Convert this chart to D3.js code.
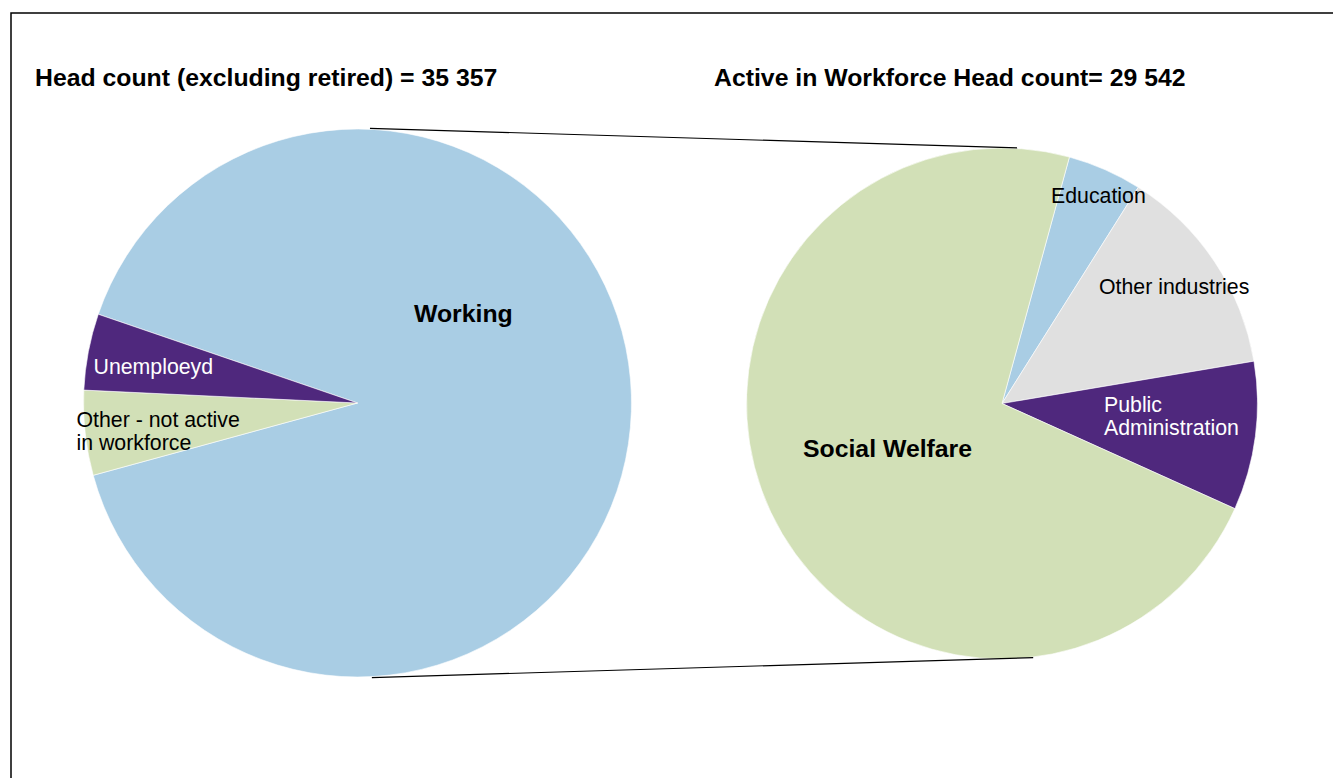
<!DOCTYPE html>
<html>
<head>
<meta charset="utf-8">
<script src="https://cdn.jsdelivr.net/npm/d3@7"></script>
<style>
  html, body { margin: 0; padding: 0; background: #fff; overflow: hidden; }
  svg { display: block; font-family: "Liberation Sans", Arial, sans-serif; }
</style>
</head>
<body>
<svg id="chart" width="1333" height="778"></svg>
<script>
// Head count breakdown (share of head count, %)
const mainCategories = ["Working", "Other - not active in workforce", "Unemploeyd"];
const mainValues = [90.5, 5.0, 4.5];

// Breakdown of the active workforce by sector (%)
const subCategories = ["Education", "Other industries", "Public Administration", "Social Welfare"];
const subValues = [4.7, 13.4, 9.4, 72.5];

const titles = [
  "Head count (excluding retired) = 35 357",
  "Active in Workforce Head count= 29 542"
];

const colors = {
  "Working": "#a9cde4",
  "Other - not active in workforce": "#d2e0b7",
  "Unemploeyd": "#4f287d",
  "Education": "#a9cde4",
  "Other industries": "#e0e0e0",
  "Public Administration": "#4f287d",
  "Social Welfare": "#d2e0b7"
};

const svg = d3.select("#chart");
const deg = Math.PI / 180;

// outer frame
svg.append("rect")
  .attr("x", 11).attr("y", 13)
  .attr("width", 1400).attr("height", 900)
  .attr("fill", "none").attr("stroke", "#000").attr("stroke-width", 1.5);

// titles
svg.append("text").attr("x", 35).attr("y", 86)
  .attr("font-size", 24.8).attr("font-weight", "bold").text(titles[0]);
svg.append("text").attr("x", 714).attr("y", 86)
  .attr("font-size", 24.8).attr("font-weight", "bold").text(titles[1]);

const main = { cx: 357.5, cy: 403, r: 274, start: -71.1 };
const sub = { cx: 1002, cy: 403.5, r: 255.5, start: 15.3 };

function drawPie(cfg, cats, vals) {
  const pie = d3.pie().sort(null)
    .startAngle(cfg.start * deg)
    .endAngle(cfg.start * deg + 2 * Math.PI)
    .value(d => d.v);
  const arc = d3.arc().innerRadius(0).outerRadius(cfg.r);
  const g = svg.append("g").attr("transform", `translate(${cfg.cx},${cfg.cy})`);
  g.selectAll("path")
    .data(pie(cats.map((c, i) => ({ c, v: vals[i] }))))
    .join("path")
    .attr("d", arc)
    .attr("fill", d => colors[d.data.c])
    .attr("stroke", "#fff")
    .attr("stroke-width", 0.6);
  return g;
}

drawPie(main, mainCategories, mainValues);
drawPie(sub, subCategories, subValues);

// connector lines between the two pies
function onCircle(cfg, a, rr) {
  return [cfg.cx + rr * Math.sin(a * deg), cfg.cy - rr * Math.cos(a * deg)];
}
const links = [
  [onCircle(main, 2.6, 275), onCircle(sub, 3.4, 256)],
  [onCircle(main, 177, 275), onCircle(sub, 173, 256)]
];
svg.selectAll("line.link").data(links).join("line")
  .attr("class", "link")
  .attr("x1", d => d[0][0]).attr("y1", d => d[0][1])
  .attr("x2", d => d[1][0]).attr("y2", d => d[1][1])
  .attr("stroke", "#000").attr("stroke-width", 1.2);

// slice labels
const labels = [
  { lines: ["Working"], x: 414, y: 322, bold: true, fill: "#000" },
  { lines: ["Unemploeyd"], x: 93.5, y: 374, fill: "#fff" },
  { lines: ["Other - not active", "in workforce"], x: 76.5, y: 427, fill: "#000" },
  { lines: ["Social Welfare"], x: 803, y: 457, bold: true, fill: "#000" },
  { lines: ["Education"], x: 1051, y: 203, fill: "#000" },
  { lines: ["Other industries"], x: 1099, y: 294, fill: "#000" },
  { lines: ["Public", "Administration"], x: 1104, y: 412, fill: "#fff" }
];
labels.forEach(l => {
  const t = svg.append("text")
    .attr("x", l.x).attr("y", l.y)
    .attr("fill", l.fill)
    .attr("font-size", l.bold ? 24.8 : 21.3)
    .attr("font-weight", l.bold ? "bold" : "normal");
  l.lines.forEach((s, i) => {
    t.append("tspan").attr("x", l.x).attr("dy", i === 0 ? 0 : 23).text(s);
  });
});
</script>
</body>
</html>
